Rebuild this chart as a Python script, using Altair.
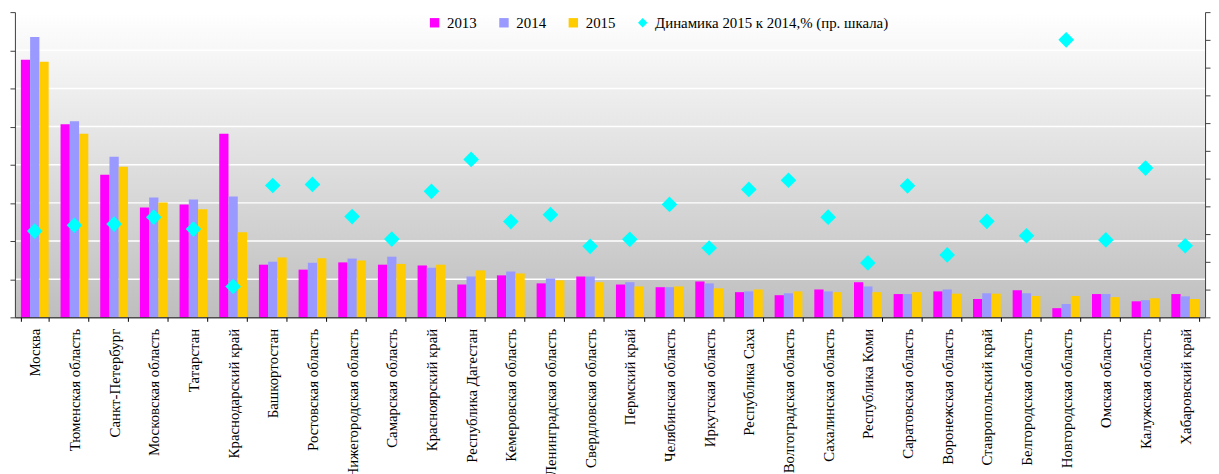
import altair as alt
import pandas as pd

regions = ["Москва", "Тюменская область", "Санкт-Петербург", "Московская область", "Татарстан",
           "Краснодарский край", "Башкортостан", "Ростовская область", "Нижегородская область",
           "Самарская область", "Красноярский край", "Республика Дагестан", "Кемеровская область",
           "Ленинградская область", "Свердловская область", "Пермский край", "Челябинская область",
           "Иркутская область", "Республика Саха", "Волгоградская область", "Сахалинская область",
           "Республика Коми", "Саратовская область", "Воронежская область", "Ставропольский край",
           "Белгородская область", "Новгородская область", "Омская область", "Калужская область",
           "Хабаровский край"]

v2013 = [6.75, 5.06, 3.74, 2.88, 2.96, 4.81, 1.38, 1.25, 1.44, 1.38, 1.36, 0.86, 1.10, 0.89, 1.07,
         0.86, 0.79, 0.94, 0.66, 0.58, 0.73, 0.92, 0.61, 0.68, 0.48, 0.71, 0.24, 0.61, 0.42, 0.61]
v2014 = [7.35, 5.14, 4.21, 3.14, 3.09, 3.17, 1.46, 1.43, 1.54, 1.59, 1.30, 1.07, 1.20, 1.02, 1.07,
         0.92, 0.79, 0.89, 0.68, 0.63, 0.68, 0.81, 0.61, 0.73, 0.63, 0.63, 0.35, 0.61, 0.45, 0.55]
v2015 = [6.70, 4.81, 3.95, 3.01, 2.83, 2.23, 1.57, 1.55, 1.49, 1.40, 1.38, 1.23, 1.15, 0.97, 0.92,
         0.81, 0.81, 0.76, 0.73, 0.68, 0.66, 0.66, 0.66, 0.62, 0.62, 0.56, 0.56, 0.53, 0.50, 0.48]
dyn = [91.1, 93.2, 93.6, 96.1, 91.8, 71.1, 107.5, 107.9, 96.3, 88.2, 105.4, 116.9, 94.5, 97.0, 85.6,
       88.1, 100.7, 85.0, 106.1, 109.4, 96.1, 79.6, 107.4, 82.5, 94.6, 89.4, 160.0, 87.9, 113.8, 85.8]

years = ["2013", "2014", "2015"]
dyn_name = "Динамика 2015 к 2014,% (пр. шкала)"
series_all = years + [dyn_name]
colors = ["#FF00FF", "#9999FF", "#FFCC00", "#00FFFF"]
shapes = ["square", "square", "square", "diamond"]
left_ticks = [0, 1, 2, 3, 4, 5, 6, 7, 8]
grid_ticks = [1, 2, 3, 4, 5, 6, 7]
right_ticks = [60, 70, 80, 90, 100, 110, 120, 130, 140, 150, 160, 170]

rows = []
for i, r in enumerate(regions):
    for y, vals in zip(years, [v2013, v2014, v2015]):
        rows.append({"region": r, "series": y, "value": vals[i]})
bars_df = pd.DataFrame(rows)
dyn_df = pd.DataFrame({"region": regions, "series": dyn_name, "dyn": dyn})
grid_df = pd.DataFrame({"value": grid_ticks})

FONT = "Liberation Serif"

legend = alt.Legend(title=None, orient="none", legendX=416, legendY=3, direction="horizontal",
                    labelFont=FONT, labelFontSize=15, labelColor="black", symbolSize=90,
                    columnPadding=20, labelOffset=5, symbolStrokeWidth=0, labelLimit=500)

color = alt.Color("series:N", scale=alt.Scale(domain=series_all, range=colors), legend=legend)
shape = alt.Shape("series:N", scale=alt.Scale(domain=series_all, range=shapes), legend=legend)

x = alt.X("region:N", sort=regions,
          scale=alt.Scale(paddingInner=0.3, paddingOuter=0.15),
          axis=alt.Axis(title=None, labelAngle=-90, labelFont=FONT, labelFontSize=15,
                        labelColor="black", tickBand="extent", tickSize=4, tickColor="black",
                        domainColor="black", labelPadding=7, grid=False, labelLimit=400,
                        zindex=2))

left_axis = alt.Axis(title=None, labels=False, values=left_ticks, tickSize=5, grid=False,
                     domainColor="#404040", tickColor="#404040", zindex=2)
left_scale = alt.Scale(domain=[0, 8], nice=False)

bg = alt.Chart(alt.Data(values=[{}])).mark_rect(
    color=alt.LinearGradient(
        gradient="linear", x1=0, y1=0, x2=0, y2=1,
        stops=[alt.GradientStop(offset=0, color="#ffffff"),
               alt.GradientStop(offset=1, color="#bebebe")])
).encode(x=alt.value(0), x2=alt.value("width"), y=alt.value(0), y2=alt.value("height"))

grid = alt.Chart(grid_df).mark_rule(color="white", strokeWidth=1.5).encode(
    y=alt.Y("value:Q", scale=left_scale, axis=left_axis)
)

bars = alt.Chart(bars_df).mark_bar().encode(
    x=x,
    xOffset=alt.XOffset("series:N", sort=years, scale=alt.Scale(paddingInner=0, paddingOuter=0)),
    y=alt.Y("value:Q", scale=left_scale, axis=left_axis),
    color=color,
)

points = alt.Chart(dyn_df).mark_point(filled=True, opacity=1, size=250).encode(
    x=x,
    y=alt.Y("dyn:Q", scale=alt.Scale(domain=[60, 170], nice=False),
            axis=alt.Axis(title=None, orient="right", labels=False, values=right_ticks, tickSize=5,
                          grid=False, domainColor="#404040", tickColor="#404040", zindex=2)),
    color=color,
    shape=shape,
)

left_layer = alt.layer(bg, grid, bars)

chart = alt.layer(left_layer, points).resolve_scale(y="independent").properties(
    width=1201, height=308,
    padding={"left": 0, "top": 1, "right": 0, "bottom": 0},
).configure_view(
    stroke="transparent"
).configure(background="white")

chart.save("out.html", embed_options={"renderer": "svg", "actions": False})
